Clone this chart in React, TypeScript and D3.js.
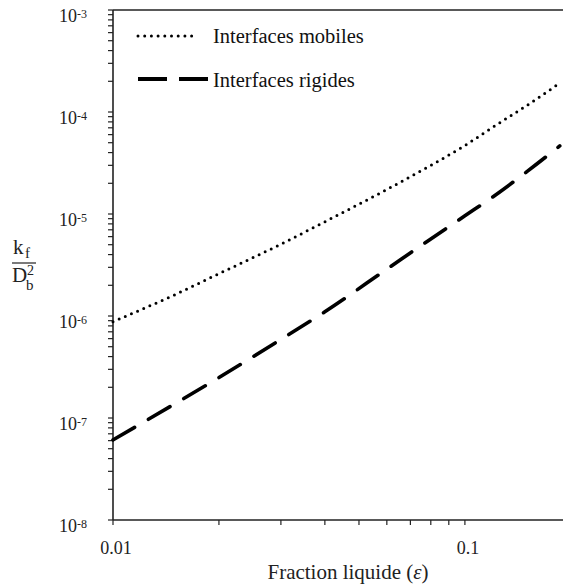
import React from "react";
import * as d3 from "d3";

const xValues = [0.01, 0.015, 0.02, 0.03, 0.04, 0.06, 0.08, 0.1, 0.12, 0.15, 0.186];
const mobiles = [8.8e-7, 1.62e-6, 2.6e-6, 5.06e-6, 8.4e-6, 1.74e-5, 3.0e-5, 4.7e-5, 7.1e-5, 1.16e-4, 1.92e-4];
const rigides = [6.1e-8, 1.38e-7, 2.49e-7, 5.9e-7, 1.1e-6, 2.88e-6, 5.7e-6, 9.6e-6, 1.47e-5, 2.6e-5, 4.65e-5];
const yExponents = ["-3", "-4", "-5", "-6", "-7", "-8"];
const yDecades = [1e-3, 1e-4, 1e-5, 1e-6, 1e-7, 1e-8];
const xTickLabels = ["0.01", "0.1"];
const xTickValues = [0.01, 0.1];
const legendLabels = ["Interfaces mobiles", "Interfaces rigides"];

const W = 563;
const H = 588;
const FONT = "'Liberation Serif', 'Times New Roman', 'DejaVu Serif', serif";

export default function App() {
  const left = 113, right = 563, top = 10, bottom = 520;
  const x = d3.scaleLog().domain([0.01, 0.19]).range([left, right]);
  const y = d3.scaleLog().domain([1e-8, 1e-3]).range([bottom, top]);

  const line = d3
    .line<[number, number]>()
    .x((d) => x(d[0]))
    .y((d) => y(d[1]))
    .curve(d3.curveMonotoneX);

  const mobPath = line(xValues.map((v, i) => [v, mobiles[i]]))!;
  const rigPath = line(xValues.map((v, i) => [v, rigides[i]]))!;

  const yTicks = y.ticks();
  const xTicks = x.ticks();
  const axisColor = "#222";
  const ts = { fontFamily: FONT };

  return (
    <svg
      width={W}
      height={H}
      style={{ position: "absolute", left: 0, top: 0, background: "#fff", fontFamily: FONT }}
    >
      <rect x={0} y={0} width={W} height={H} fill="#fff" />
      {/* axes */}
      <line x1={left} x2={left} y1={top} y2={bottom} stroke={axisColor} strokeWidth={1.6} />
      <line x1={left} x2={right} y1={top} y2={top} stroke={axisColor} strokeWidth={1.6} />
      <line x1={left} x2={right} y1={bottom} y2={bottom} stroke={axisColor} strokeWidth={1.6} />
      {yTicks.map((t, i) => (
        <line key={"yt" + i} x1={left - 5} x2={left} y1={y(t)} y2={y(t)} stroke={axisColor} strokeWidth={1.2} />
      ))}
      {xTicks.map((t, i) => (
        <line key={"xt" + i} x1={x(t)} x2={x(t)} y1={bottom} y2={bottom + 5} stroke={axisColor} strokeWidth={1.2} />
      ))}
      {/* y tick labels */}
      {yDecades.map((d, i) => (
        <g key={"yl" + i}>
          <text x={77} y={y(d) + 12} fontSize={18} textAnchor="end" fill="#222" style={ts}>
            10
          </text>
          <text x={77} y={y(d) + 8} fontSize={12} textAnchor="start" fill="#222" style={ts}>
            {yExponents[i]}
          </text>
        </g>
      ))}
      {/* x tick labels */}
      {xTickValues.map((v, i) => (
        <text key={"xl" + i} x={x(v) + 3} y={554} fontSize={18} textAnchor="middle" fill="#222" style={ts}>
          {xTickLabels[i]}
        </text>
      ))}
      {/* x title */}
      <text x={348} y={579} fontSize={21} textAnchor="middle" fill="#222" style={ts}>
        Fraction liquide (<tspan fontStyle="italic">ε</tspan>)
      </text>
      {/* y title fraction */}
      <g fill="#222">
        <text x={13} y={254} fontSize={21} style={ts}>k</text>
        <text x={25} y={258} fontSize={15} style={ts}>f</text>
        <line x1={12} x2={36} y1={263} y2={263} stroke="#222" strokeWidth={1.2} />
        <text x={12} y={282} fontSize={21} style={ts}>D</text>
        <text x={26} y={290} fontSize={15} style={ts}>b</text>
        <text x={27} y={275} fontSize={14} style={ts}>2</text>
      </g>
      {/* curves */}
      <path d={mobPath} fill="none" stroke="#000" strokeWidth={3} strokeDasharray="0 6.7" strokeLinecap="round" />
      <path d={rigPath} fill="none" stroke="#000" strokeWidth={3.6} strokeDasharray="25 16" strokeLinecap="round" />
      {/* legend */}
      <line x1={138} x2={198} y1={36} y2={36} stroke="#000" strokeWidth={3} strokeDasharray="0 6.7" strokeLinecap="round" />
      <text x={213} y={43} fontSize={20.5} fill="#111" style={ts}>{legendLabels[0]}</text>
      <line x1={138} x2={208} y1={79} y2={79} stroke="#000" strokeWidth={4} strokeDasharray="29 12" strokeLinecap="butt" />
      <text x={213} y={87} fontSize={20.5} fill="#111" style={ts}>{legendLabels[1]}</text>
    </svg>
  );
}
